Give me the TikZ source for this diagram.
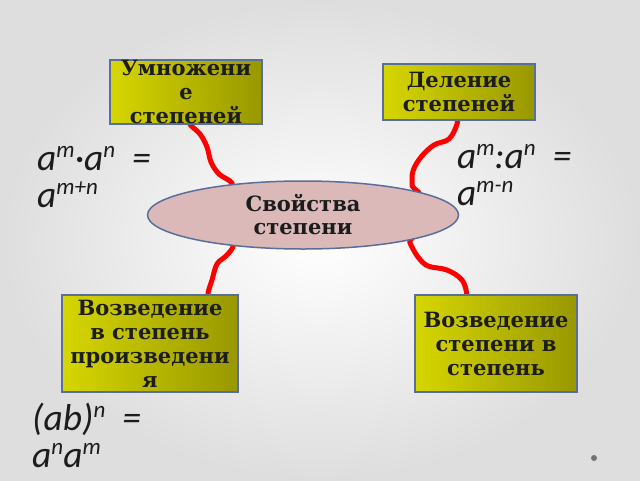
\documentclass[tikz,border=0pt]{standalone}
\usepackage{fontspec}
\setmainfont{DejaVu Serif}
\newfontfamily\formfont{Carlito}
\usetikzlibrary{shapes.geometric}
\definecolor{boxL}{HTML}{D6D600}
\definecolor{boxR}{HTML}{989800}
\definecolor{edgeB}{HTML}{5A6E9C}
\definecolor{ovalF}{HTML}{DCB9B9}
\definecolor{linkR}{HTML}{FF0000}
\definecolor{inkD}{HTML}{1C1C1C}
\pgfdeclarelayer{bg}
\pgfdeclarelayer{links}
\pgfsetlayers{bg,links,main}
\newcommand\upidx[1]{\raisebox{12.5pt}{\fontsize{23}{23}\selectfont #1}}
\begin{document}
\begin{tikzpicture}[x=1pt,y=-1pt,
  topic/.style={draw=edgeB, line width=1.5pt, left color=boxL, right color=boxR,
    font=\fontsize{21}{24}\selectfont\bfseries, text=inkD, align=center,
    inner sep=0pt, rectangle},
  hub/.style={ellipse, draw=edgeB, line width=1.5pt, fill=ovalF,
    font=\fontsize{21}{23}\selectfont\bfseries, text=inkD, align=center,
    inner sep=0pt, minimum width=311pt, minimum height=68pt},
  formula/.style={font=\formfont\itshape\fontsize{37.5}{37}\selectfont, text=inkD,
    align=left, inner sep=0pt, anchor=base west},
  link/.style={draw=linkR, line width=5pt, line cap=round, line join=round}
]
\begin{pgfonlayer}{bg}
  \fill[inner color=white, outer color=black!13] (0,0) rectangle (640,480);
\end{pgfonlayer}
\useasboundingbox (0,0) rectangle (640,480);

\node[topic, minimum width=152pt, minimum height=56pt] (tl) at (186,92)
  {Умножени\\е\\степеней};
\node[topic, minimum width=152pt, minimum height=56pt] (tr) at (459,92)
  {Деление\\степеней};
\node[topic, minimum width=176pt, minimum height=97pt] (bl) at (150,343.5)
  {Возведение\\в степень\\произведени\\я};
\node[topic, minimum width=162pt, minimum height=97pt] (br) at (496,343.5)
  {Возведение\\степени в\\степень};
\node[hub] (el) at (303,215) {Свойства\\степени};

\node[formula] (f1) at (37,207) {a\upidx{m}·a\upidx{n}\ \ =\\a\upidx{m+n}};
\node[formula] (f2) at (457,205) {a\upidx{m}:a\upidx{n}\ \ =\\a\upidx{m-n}};
\node[formula] (f3) at (32,467) {(ab)\upidx{n}\ \ =\\a\upidx{n}a\upidx{m}};

\fill[black!55] (594,458) circle (3pt);

\begin{pgfonlayer}{links}
  \draw[link] plot[smooth, tension=0.6] coordinates {(tl.center) (187,110) (189,123) (200,134) (207,147) (211,162) (219,174) (232,183) (238,198) (el.center)};
  \draw[link] plot[smooth, tension=0.6] coordinates {(tr.center) (458,110) (457,124) (449,139) (434,145) (421,157) (413,171) (412,185) (412,200) (el.center)};
  \draw[link] plot[smooth, tension=0.6] coordinates {(el.center) (238,232) (233,247) (226,256) (217,264) (212,280) (208,293) (206,308) (bl.center)};
  \draw[link] plot[smooth, tension=0.6] coordinates {(el.center) (405,230) (410,243) (418,257) (428,266) (447,270) (462,280) (467,295) (468,310) (br.center)};
\end{pgfonlayer}
\end{tikzpicture}
\end{document}
